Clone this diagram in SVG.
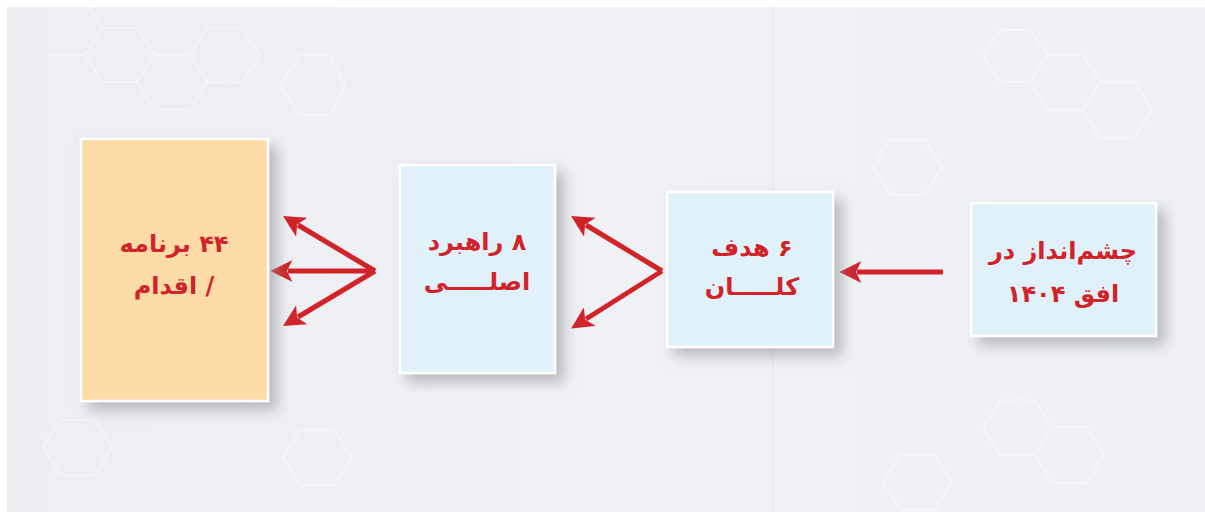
<svg xmlns="http://www.w3.org/2000/svg" width="1205" height="512" viewBox="0 0 1205 512">
<defs>
<filter id="sh" x="-20%" y="-20%" width="150%" height="150%">
<feDropShadow dx="8" dy="8" stdDeviation="7" flood-color="#8a8c90" flood-opacity="0.55"/>
</filter>
<marker id="ah" viewBox="0 0 10 10" refX="2" refY="5" markerWidth="4.4" markerHeight="4.4" orient="auto-start-reverse" markerUnits="strokeWidth">
<path d="M0,0 L10,5 L0,10 L2.5,5 Z" fill="#d1232a"/>
</marker>
<linearGradient id="bg" x1="0" y1="0" x2="1" y2="0">
<stop offset="0" stop-color="#eceef2"/>
<stop offset="0.5" stop-color="#f0f1f4"/>
<stop offset="1" stop-color="#eef0f3"/>
</linearGradient>
</defs>
<style>
.box{stroke:#ffffff;stroke-width:2.5;filter:url(#sh)}
.t{font-family:"DejaVu Sans","Noto Sans",sans-serif;font-weight:bold;font-size:24px;fill:#d1232a;text-anchor:middle;direction:rtl}
.c{stroke:#d1232a;stroke-width:5;fill:none}
.hx{fill:none;stroke:#ffffff;stroke-width:1.5;opacity:0.45}
</style>
<rect x="0" y="0" width="1205" height="512" fill="#ffffff"/>
<rect x="7" y="7" width="1198" height="505" fill="url(#bg)"/>
<g id="pattern">
<path class="hx" d="M50,55 L85,55 L102,28 L85,0 M85,55 L102,82 L137,82 L155,55 L137,28 L102,28"/>
<path class="hx" d="M137,82 L155,110 L190,110 L207,82 L190,55 L155,55"/>
<path class="hx" d="M190,55 L207,28 L242,28 L260,55 L242,82 L207,82"/>
<path class="hx" d="M280,85 L300,115 L330,115 L345,85 L330,55 L300,55 Z"/>
<path class="hx" d="M1000,30 L1030,30 L1048,55 L1030,82 L1000,82 L983,55 Z"/>
<path class="hx" d="M1048,55 L1083,55 L1100,82 L1083,110 L1048,110 L1030,82"/>
<path class="hx" d="M1100,82 L1135,82 L1152,110 L1135,138 L1100,138 L1083,110"/>
<path class="hx" d="M890,140 L925,140 L942,167 L925,195 L890,195 L873,167 Z"/>
<path class="hx" d="M1000,400 L1035,400 L1052,427 L1035,455 L1000,455 L983,427 Z"/>
<path class="hx" d="M1052,427 L1087,427 L1104,455 L1087,483 L1052,483 L1035,455"/>
<path class="hx" d="M900,455 L935,455 L952,482 L935,510 L900,510 L883,482 Z"/>
<path class="hx" d="M60,420 L95,420 L112,447 L95,475 L60,475 L43,447 Z"/>
<path class="hx" d="M300,430 L335,430 L352,457 L335,485 L300,485 L283,457 Z"/>
<line x1="773" y1="7" x2="773" y2="512" stroke="#e4e5e9" stroke-width="1"/>
</g>
<g id="connectors">
<path class="c" d="M375,271 L298,225" marker-end="url(#ah)"/>
<path class="c" d="M375,271 L288,271" marker-end="url(#ah)"/>
<path class="c" d="M375,271 L298,317" marker-end="url(#ah)"/>
<path class="c" d="M662,271 L586,225" marker-end="url(#ah)"/>
<path class="c" d="M662,271 L586,319" marker-end="url(#ah)"/>
<path class="c" d="M943,272 L857,272" marker-end="url(#ah)"/>
</g>
<g id="node-programs">
<rect class="box" x="81" y="139" width="187" height="262" fill="#fddba6"/>
<text class="t" x="174" y="252">۴۴ برنامه</text>
<text class="t" x="174" y="294">/ اقدام</text>
</g>
<g id="node-strategies">
<rect class="box" x="400" y="165" width="155" height="208" fill="#e0f1f9"/>
<text class="t" x="477" y="250">۸ راهبرد</text>
<text class="t" x="477" y="290">اصلـــــی</text>
</g>
<g id="node-goals">
<rect class="box" x="667" y="192" width="166" height="155" fill="#e0f1f9"/>
<text class="t" x="752" y="256">۶ هدف</text>
<text class="t" x="752" y="295">کلـــــان</text>
</g>
<g id="node-vision">
<rect class="box" x="971" y="203" width="185" height="133" fill="#e0f1f9"/>
<text class="t" x="1063" y="259">چشم‌انداز در</text>
<text class="t" x="1063" y="302">افق ۱۴۰۴</text>
</g>
</svg>
